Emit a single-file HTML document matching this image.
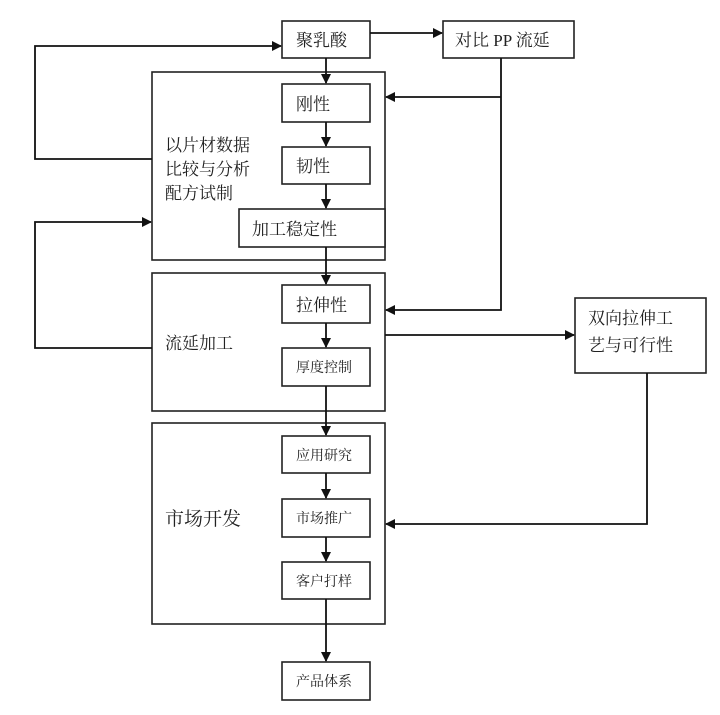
<!DOCTYPE html>
<html><head><meta charset="utf-8"><style>
html,body{margin:0;padding:0;background:#fff;}
svg text{font-family:"Liberation Serif","Noto Serif CJK SC","Noto Sans CJK SC",serif;fill:#222;}
</style></head><body>
<svg width="720" height="710" viewBox="0 0 720 710" xmlns="http://www.w3.org/2000/svg">
<defs><marker id="a" markerWidth="10" markerHeight="10" refX="9" refY="5" orient="auto" markerUnits="userSpaceOnUse"><path d="M0,0 L10,5 L0,10 z" fill="#111"/></marker></defs>
<g fill="none" stroke="#222" stroke-width="1.6">
<rect x="152" y="72" width="233" height="188"/>
<rect x="152" y="273" width="233" height="138"/>
<rect x="152" y="423" width="233" height="201"/>
<rect x="282" y="21" width="88" height="37" fill="#fff"/>
<rect x="443" y="21" width="131" height="37"/>
<rect x="282" y="84" width="88" height="38"/>
<rect x="282" y="147" width="88" height="37"/>
<rect x="239" y="209" width="146" height="38" fill="#fff"/>
<rect x="282" y="285" width="88" height="38"/>
<rect x="282" y="348" width="88" height="38"/>
<rect x="575" y="298" width="131" height="75"/>
<rect x="282" y="436" width="88" height="37"/>
<rect x="282" y="499" width="88" height="38"/>
<rect x="282" y="562" width="88" height="37"/>
<rect x="282" y="662" width="88" height="38"/>
</g>
<g fill="none" stroke="#111" stroke-width="1.8">
<line x1="370" y1="33" x2="442" y2="33" marker-end="url(#a)"/>
<line x1="326" y1="58" x2="326" y2="83" marker-end="url(#a)"/>
<line x1="326" y1="122" x2="326" y2="146" marker-end="url(#a)"/>
<line x1="326" y1="184" x2="326" y2="208" marker-end="url(#a)"/>
<line x1="326" y1="247" x2="326" y2="284" marker-end="url(#a)"/>
<line x1="326" y1="323" x2="326" y2="347" marker-end="url(#a)"/>
<line x1="326" y1="386" x2="326" y2="435" marker-end="url(#a)"/>
<line x1="326" y1="473" x2="326" y2="498" marker-end="url(#a)"/>
<line x1="326" y1="537" x2="326" y2="561" marker-end="url(#a)"/>
<line x1="326" y1="599" x2="326" y2="661" marker-end="url(#a)"/>
<polyline points="152,159 35,159 35,46 281,46" marker-end="url(#a)"/>
<polyline points="152,348 35,348 35,222 151,222" marker-end="url(#a)"/>
<polyline points="501,58 501,310 386,310" marker-end="url(#a)"/>
<line x1="501" y1="97" x2="386" y2="97" marker-end="url(#a)"/>
<line x1="385" y1="335" x2="574" y2="335" marker-end="url(#a)"/>
<polyline points="647,373 647,524 386,524" marker-end="url(#a)"/>
</g>
<g font-size="17">
<text x="296" y="46">聚乳酸</text>
<text x="455" y="46">对比 PP 流延</text>
<text x="296" y="110">刚性</text>
<text x="296" y="172">韧性</text>
<text x="252" y="235">加工稳定性</text>
<text x="296" y="311">拉伸性</text>
<text x="165" y="151">以片材数据</text>
<text x="165" y="175">比较与分析</text>
<text x="165" y="199">配方试制</text>
<text x="165" y="349">流延加工</text>
<text x="588" y="324">双向拉伸工</text>
<text x="588" y="351">艺与可行性</text>
<text x="165" y="525" font-size="19">市场开发</text>
</g>
<g font-size="14">
<text x="296" y="372">厚度控制</text>
<text x="296" y="460">应用研究</text>
<text x="296" y="523">市场推广</text>
<text x="296" y="586">客户打样</text>
<text x="296" y="686">产品体系</text>
</g>
</svg>
</body></html>
